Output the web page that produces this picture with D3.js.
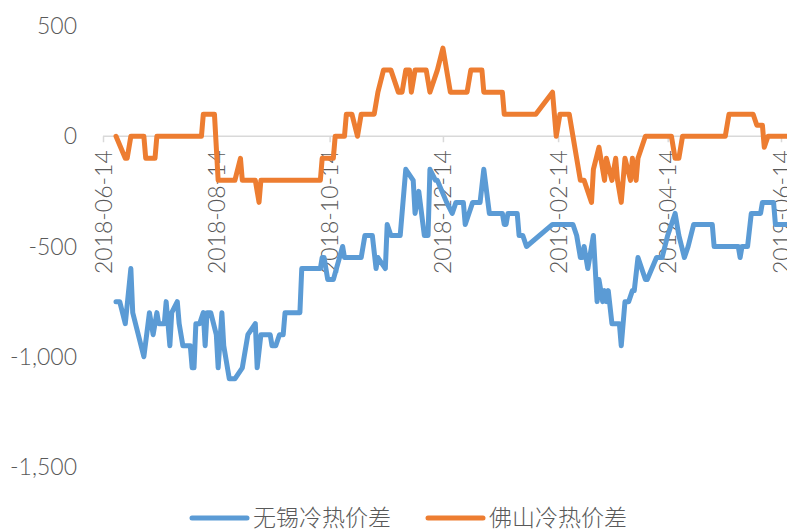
<!DOCTYPE html>
<html>
<head>
<meta charset="utf-8">
<script src="https://cdn.jsdelivr.net/npm/d3@7"></script>
<style>
  html, body { margin: 0; padding: 0; background: #fff; }
  svg { display: block; }
  .lbl { font-family: "Century Gothic", Lato, "Noto Sans", sans-serif; font-weight: 300; fill: #595959; }
  .leg { font-family: "Noto Sans CJK SC", sans-serif; font-weight: 300; fill: #595959; }
</style>
</head>
<body>
<div id="chart"></div>
<script>
// 无锡冷热价差
var wuxiDates = ["2018-06-21","2018-06-23","2018-06-26","2018-06-29","2018-06-30","2018-07-06","2018-07-09","2018-07-11","2018-07-13","2018-07-14",
  "2018-07-17","2018-07-18","2018-07-20","2018-07-21","2018-07-24","2018-07-25","2018-07-27","2018-07-31","2018-08-01","2018-08-02",
  "2018-08-03","2018-08-05","2018-08-07","2018-08-08","2018-08-09","2018-08-11","2018-08-14","2018-08-15","2018-08-17","2018-08-18",
  "2018-08-21","2018-08-24","2018-08-28","2018-08-31","2018-09-04","2018-09-05","2018-09-07","2018-09-12","2018-09-13","2018-09-15",
  "2018-09-17","2018-09-19","2018-09-20","2018-09-28","2018-09-29","2018-10-09","2018-10-10","2018-10-11","2018-10-13","2018-10-16",
  "2018-10-21","2018-10-22","2018-10-31","2018-11-02","2018-11-06","2018-11-08","2018-11-09","2018-11-13","2018-11-14","2018-11-16",
  "2018-11-21","2018-11-24","2018-11-28","2018-11-29","2018-12-01","2018-12-04","2018-12-06","2018-12-07","2018-12-10","2018-12-11",
  "2018-12-16","2018-12-19","2018-12-21","2018-12-25","2018-12-26","2018-12-28","2018-12-30","2019-01-03","2019-01-05","2019-01-08",
  "2019-01-15","2019-01-16","2019-01-17","2019-01-18","2019-01-23","2019-01-24","2019-01-26","2019-01-28","2019-02-11","2019-02-17",
  "2019-02-22","2019-02-24","2019-02-26","2019-02-27","2019-02-28","2019-03-02","2019-03-03","2019-03-05","2019-03-07","2019-03-08",
  "2019-03-10","2019-03-11","2019-03-12","2019-03-13","2019-03-15","2019-03-19","2019-03-20","2019-03-22","2019-03-24","2019-03-26",
  "2019-03-27","2019-03-29","2019-04-02","2019-04-03","2019-04-08","2019-04-11","2019-04-14","2019-04-18","2019-04-20","2019-04-23",
  "2019-04-25","2019-04-28","2019-05-08","2019-05-09","2019-05-22","2019-05-23","2019-05-24","2019-05-27","2019-05-29","2019-06-03",
  "2019-06-04","2019-06-10","2019-06-11","2019-06-17"];
var wuxiValues = [-750,-750,-850,-600,-800,-1000,-800,-900,-800,-850,
  -850,-750,-950,-800,-750,-850,-950,-950,-1050,-1050,
  -850,-850,-800,-950,-800,-800,-900,-1050,-800,-950,
  -1100,-1100,-1050,-900,-850,-1050,-900,-900,-950,-950,
  -900,-900,-800,-800,-600,-600,-550,-550,-650,-650,
  -500,-550,-550,-450,-450,-600,-550,-600,-400,-450,
  -450,-150,-200,-350,-250,-450,-450,-150,-200,-200,
  -300,-350,-300,-300,-400,-350,-300,-300,-150,-350,
  -350,-400,-400,-350,-350,-450,-450,-500,-400,-400,
  -400,-450,-550,-550,-500,-600,-550,-450,-750,-650,
  -750,-700,-750,-700,-850,-850,-950,-750,-750,-700,
  -700,-550,-650,-650,-550,-550,-450,-350,-450,-550,
  -500,-400,-400,-500,-500,-550,-500,-500,-350,-350,
  -300,-300,-400,-400];

// 佛山冷热价差
var foshanDates = ["2018-06-21","2018-06-26","2018-06-27","2018-06-29","2018-07-06","2018-07-07","2018-07-12","2018-07-13","2018-08-06","2018-08-07",
  "2018-08-13","2018-08-15","2018-08-24","2018-08-27","2018-08-28","2018-09-04","2018-09-06","2018-09-07","2018-10-09","2018-10-10",
  "2018-10-16","2018-10-17","2018-10-22","2018-10-23","2018-10-26","2018-10-29","2018-10-31","2018-11-07","2018-11-09","2018-11-12",
  "2018-11-16","2018-11-20","2018-11-22","2018-11-24","2018-11-26","2018-11-27","2018-11-29","2018-12-05","2018-12-07","2018-12-11",
  "2018-12-14","2018-12-18","2018-12-27","2018-12-29","2019-01-04","2019-01-05","2019-01-15","2019-01-16","2019-02-02","2019-02-11",
  "2019-02-13","2019-02-15","2019-02-20","2019-02-22","2019-02-24","2019-02-26","2019-02-28","2019-03-04","2019-03-05","2019-03-08",
  "2019-03-11","2019-03-12","2019-03-15","2019-03-17","2019-03-18","2019-03-20","2019-03-22","2019-03-25","2019-03-26","2019-03-28",
  "2019-03-29","2019-04-02","2019-04-16","2019-04-18","2019-04-20","2019-04-22","2019-05-15","2019-05-17","2019-05-30","2019-06-01",
  "2019-06-04","2019-06-05","2019-06-07","2019-06-17"];
var foshanValues = [0,-100,-100,0,0,-100,-100,0,0,100,
  100,-200,-200,-100,-200,-200,-300,-200,-200,-100,
  -100,0,0,100,100,0,100,100,200,300,
  300,200,200,300,300,200,300,300,200,300,
  400,200,200,300,300,200,200,100,100,200,
  0,100,100,0,-100,-200,-200,-300,-150,-50,
  -200,-100,-200,-100,-200,-300,-100,-200,-100,-200,
  -100,0,0,-100,-100,0,0,100,100,50,
  50,-50,0,0];

var xTickLabels = ["2018-06-14","2018-08-14","2018-10-14","2018-12-14","2019-02-14","2019-04-14","2019-06-14"];
var yTicks = [500, 0, -500, -1000, -1500];
var yTickLabels = ["500", "0", "-500", "-1,000", "-1,500"];
var seriesNames = ["无锡冷热价差", "佛山冷热价差"];
var seriesColors = ["#5B9BD5", "#ED7D31"];

var W = 787, H = 531;
var parseTime = d3.timeParse("%Y-%m-%d");

var svg = d3.select("#chart").append("svg")
    .attr("width", W)
    .attr("height", H);

var x = d3.scaleTime()
    .domain([parseTime("2018-06-14"), parseTime("2019-06-14")])
    .range([103, 781]);

var y = d3.scaleLinear()
    .domain([-1500, 500])
    .range([467, 26]);

// y labels (no axis line)
svg.append("g").selectAll("text")
    .data(yTicks)
    .enter().append("text")
    .attr("class", "lbl")
    .attr("x", 77)
    .attr("y", function(d) { return y(d); })
    .attr("dy", "0.35em")
    .attr("text-anchor", "end")
    .style("font-size", "23px")
    .text(function(d, i) { return yTickLabels[i]; });

// x axis on zero
var xAxis = svg.append("g")
    .attr("transform", "translate(0," + y(0) + ")")
    .call(d3.axisBottom(x)
        .tickValues(xTickLabels.map(parseTime))
        .tickSize(6)
        .tickSizeOuter(0)
        .tickFormat(d3.timeFormat("%Y-%m-%d")));

xAxis.select(".domain")
    .attr("d", "M103,0H" + W)
    .attr("stroke", "#d9d9d9")
    .attr("stroke-width", 1.5);
xAxis.selectAll(".tick line")
    .attr("stroke", "#d9d9d9")
    .attr("stroke-width", 1.5);
xAxis.selectAll(".tick text")
    .attr("class", "lbl")
    .attr("transform", "rotate(-90)")
    .attr("x", -14)
    .attr("y", 0)
    .attr("dy", "0.35em")
    .attr("text-anchor", "end")
    .style("font-size", "23px")
    .style("font-family", "\"Century Gothic\", Lato, \"Noto Sans\", sans-serif")
    .attr("fill", "#595959");

var line = d3.line()
    .x(function(d) { return x(parseTime(d[0])); })
    .y(function(d) { return y(d[1]); });

var series = [
    d3.zip(wuxiDates, wuxiValues),
    d3.zip(foshanDates, foshanValues)
];

series.forEach(function(s, i) {
    svg.append("path")
        .datum(s)
        .attr("fill", "none")
        .attr("stroke", seriesColors[i])
        .attr("stroke-width", 5)
        .attr("stroke-linejoin", "round")
        .attr("stroke-linecap", "round")
        .attr("d", line);
});

// legend
var legX = [192, 428];
var legend = svg.append("g");
seriesNames.forEach(function(name, i) {
    legend.append("line")
        .attr("x1", legX[i]).attr("x2", legX[i] + 55)
        .attr("y1", 518).attr("y2", 518)
        .attr("stroke", seriesColors[i])
        .attr("stroke-width", 5)
        .attr("stroke-linecap", "round");
    legend.append("text")
        .attr("class", "leg")
        .attr("x", legX[i] + 61)
        .attr("y", 518)
        .attr("dy", "0.35em")
        .style("font-size", "23px")
        .text(name);
});
</script>
</body>
</html>
